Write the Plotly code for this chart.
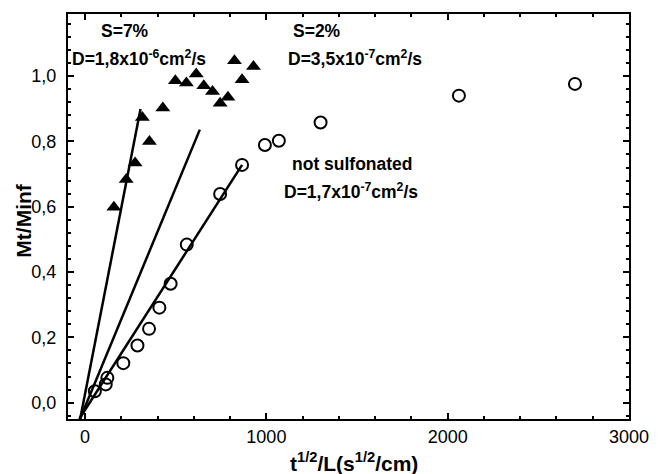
import plotly.graph_objects as go

# S=7% (triangles)
tri_x = [159, 227, 276, 355, 316, 429, 498, 559, 613, 655, 703, 745, 788, 824, 866, 929]
tri_y = [0.598, 0.683, 0.734, 0.800, 0.873, 0.902, 0.986, 0.979, 1.006, 0.970, 0.953, 0.917, 0.935, 1.047, 0.989, 1.029]

# not sulfonated (open circles)
circ_x = [54, 114, 123, 211, 289, 353, 410, 472, 561, 745, 866, 992, 1069, 1299, 2062, 2702]
circ_y = [0.035, 0.056, 0.076, 0.121, 0.175, 0.226, 0.291, 0.364, 0.484, 0.639, 0.728, 0.789, 0.802, 0.858, 0.940, 0.976]

# linear fits (start/end points)
fit7_x = [-27, 306]
fit7_y = [-0.05, 0.899]
fit2_x = [-28, 633]
fit2_y = [-0.05, 0.836]
fit0_x = [-32, 866]
fit0_y = [-0.05, 0.728]

fig = go.Figure()
for fx, fy in [(fit7_x, fit7_y), (fit2_x, fit2_y), (fit0_x, fit0_y)]:
    fig.add_trace(go.Scatter(x=fx, y=fy, mode="lines",
                             line=dict(color="black", width=2.5), showlegend=False))

fig.add_trace(go.Scatter(x=tri_x, y=tri_y, mode="markers",
                         marker=dict(symbol="triangle-up", size=13, color="black"),
                         showlegend=False))
fig.add_trace(go.Scatter(x=circ_x, y=circ_y, mode="markers",
                         marker=dict(symbol="circle-open", size=12, color="black",
                                     line=dict(width=2, color="black")),
                         showlegend=False))

FONT = "Arial, Liberation Sans"
bold = dict(family=FONT, size=17.5, color="black")
anns = [
    (222, 1.139, "<b>S=7%</b>"),
    (297, 1.056, "<b>D=1,8x10<sup>-6</sup>cm<sup>2</sup>/s</b>"),
    (1282, 1.139, "<b>S=2%</b>"),
    (1487, 1.056, "<b>D=3,5x10<sup>-7</sup>cm<sup>2</sup>/s</b>"),
    (1474, 0.731, "<b>not sulfonated</b>"),
    (1468, 0.649, "<b>D=1,7x10<sup>-7</sup>cm<sup>2</sup>/s</b>"),
]
for ax, ay, t in anns:
    fig.add_annotation(x=ax, y=ay, text=t, showarrow=False, font=bold,
                       xanchor="center", yanchor="middle")

# axis titles as annotations for exact placement
fig.add_annotation(xref="paper", yref="paper", x=-0.08, y=0.49, text="<b>Mt/Minf</b>",
                   textangle=-90, showarrow=False, xanchor="center", yanchor="middle",
                   font=dict(family=FONT, size=21, color="black"))
fig.add_annotation(xref="paper", yref="paper", x=0.51, y=-0.105,
                   text="<b>t<sup>1/2</sup>/L(s<sup>1/2</sup>/cm)</b>",
                   showarrow=False, xanchor="center", yanchor="middle",
                   font=dict(family=FONT, size=21, color="black"))

axis_common = dict(showgrid=False, zeroline=False, showline=True, linecolor="black",
                   linewidth=2, mirror="allticks", ticks="inside", ticklen=6,
                   tickwidth=1.5, tickcolor="black",
                   tickfont=dict(family=FONT, size=18, color="black"))

fig.update_xaxes(range=[-94, 3000], dtick=1000, tick0=0,
                 minor=dict(ticks="inside", dtick=200, tick0=0, ticklen=3,
                            tickwidth=1.5, tickcolor="black"),
                 **axis_common)
fig.update_yaxes(range=[-0.05, 1.19], dtick=0.2, tick0=0, tickformat=".1f",
                 ticklabelstandoff=6,
                 minor=dict(ticks="inside", dtick=0.04, tick0=0, ticklen=3,
                            tickwidth=1.5, tickcolor="black"),
                 **axis_common)

fig.update_layout(width=661, height=474, separators=", ",
                  margin=dict(l=68, r=21, t=13, b=55),
                  plot_bgcolor="white", paper_bgcolor="white")

fig.write_html("out.html")
